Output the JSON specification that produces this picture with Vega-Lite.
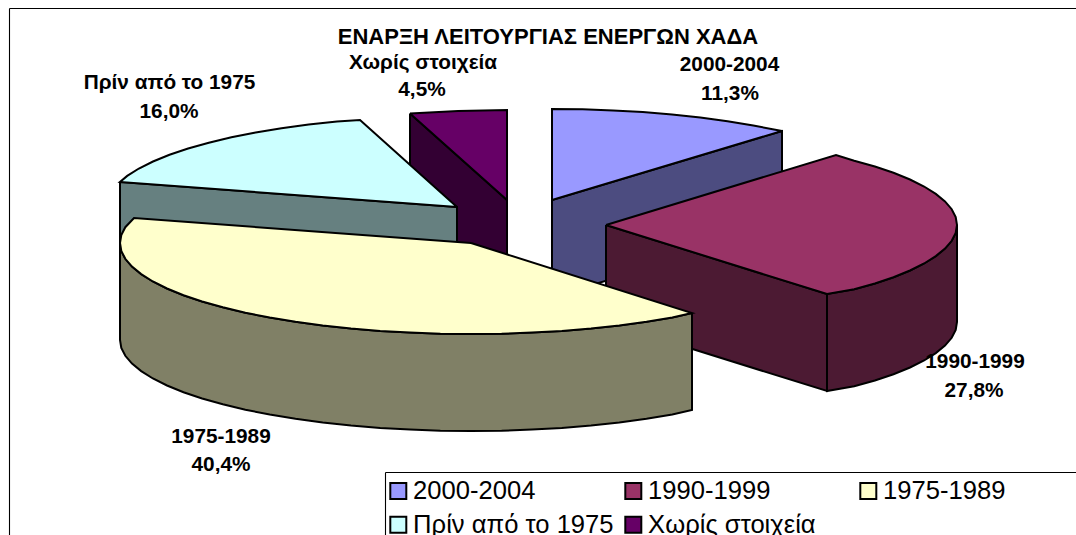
{"$schema":"https://vega.github.io/schema/vega-lite/v6.json","width":1076,"height":535,"padding":0,"autosize":{"type":"none"},"background":"white","view":{"stroke":null},
"datasets":{"shapes":[
{"part":"frame","i":0,"x":9.5,"y":8.5},{"part":"frame","i":1,"x":1090,"y":8.5},{"part":"frame","i":2,"x":1090,"y":550},{"part":"frame","i":3,"x":9.5,"y":550},{"part":"frame","i":4,"x":9.5,"y":8.5},
{"part":"Χωρίς στοιχεία side","i":0,"x":410,"y":113.5},{"part":"Χωρίς στοιχεία side","i":1,"x":507,"y":200},{"part":"Χωρίς στοιχεία side","i":2,"x":507,"y":297},{"part":"Χωρίς στοιχεία side","i":3,"x":410,"y":210.5},{"part":"Χωρίς στοιχεία side","i":4,"x":410,"y":113.5},
{"part":"Χωρίς στοιχεία","i":0,"x":410,"y":113.5},{"part":"Χωρίς στοιχεία","i":1,"x":458,"y":111},{"part":"Χωρίς στοιχεία","i":2,"x":507,"y":110},{"part":"Χωρίς στοιχεία","i":3,"x":507,"y":200},{"part":"Χωρίς στοιχεία","i":4,"x":410,"y":113.5},
{"part":"2000-2004 side","i":0,"x":552,"y":200},{"part":"2000-2004 side","i":1,"x":782,"y":131},{"part":"2000-2004 side","i":2,"x":782,"y":228},{"part":"2000-2004 side","i":3,"x":552,"y":297},{"part":"2000-2004 side","i":4,"x":552,"y":200},
{"part":"2000-2004","i":0,"x":552,"y":200},{"part":"2000-2004","i":1,"x":552,"y":109},{"part":"2000-2004","i":2,"x":582.6,"y":109.3},{"part":"2000-2004","i":3,"x":613,"y":110.4},{"part":"2000-2004","i":4,"x":642.8,"y":112.1},{"part":"2000-2004","i":5,"x":672,"y":114.5},{"part":"2000-2004","i":6,"x":700.3,"y":117.5},{"part":"2000-2004","i":7,"x":727.5,"y":121.2},{"part":"2000-2004","i":8,"x":753.3,"y":125.5},{"part":"2000-2004","i":9,"x":782,"y":131},{"part":"2000-2004","i":10,"x":552,"y":200},
{"part":"1990-1999 cut","i":0,"x":606,"y":225},{"part":"1990-1999 cut","i":1,"x":827,"y":294},{"part":"1990-1999 cut","i":2,"x":827,"y":391},{"part":"1990-1999 cut","i":3,"x":606,"y":322},{"part":"1990-1999 cut","i":4,"x":606,"y":225},
{"part":"1990-1999 side","i":0,"x":827,"y":294},{"part":"1990-1999 side","i":1,"x":854.2,"y":289.3},{"part":"1990-1999 side","i":2,"x":874.9,"y":283.5},{"part":"1990-1999 side","i":3,"x":893.5,"y":277.2},{"part":"1990-1999 side","i":4,"x":910,"y":270.5},{"part":"1990-1999 side","i":5,"x":924.1,"y":263.5},{"part":"1990-1999 side","i":6,"x":935.8,"y":256.1},{"part":"1990-1999 side","i":7,"x":945,"y":248.6},{"part":"1990-1999 side","i":8,"x":951.7,"y":240.8},{"part":"1990-1999 side","i":9,"x":955.7,"y":232.9},{"part":"1990-1999 side","i":10,"x":957,"y":225},{"part":"1990-1999 side","i":11,"x":957,"y":322},{"part":"1990-1999 side","i":12,"x":955.7,"y":329.9},{"part":"1990-1999 side","i":13,"x":951.7,"y":337.8},{"part":"1990-1999 side","i":14,"x":945,"y":345.6},{"part":"1990-1999 side","i":15,"x":935.8,"y":353.1},{"part":"1990-1999 side","i":16,"x":924.1,"y":360.5},{"part":"1990-1999 side","i":17,"x":910,"y":367.5},{"part":"1990-1999 side","i":18,"x":893.5,"y":374.2},{"part":"1990-1999 side","i":19,"x":874.9,"y":380.5},{"part":"1990-1999 side","i":20,"x":854.2,"y":386.3},{"part":"1990-1999 side","i":21,"x":827,"y":391},{"part":"1990-1999 side","i":22,"x":827,"y":294},
{"part":"1990-1999","i":0,"x":606,"y":225},{"part":"1990-1999","i":1,"x":836,"y":155},{"part":"1990-1999","i":2,"x":854.2,"y":160.7},{"part":"1990-1999","i":3,"x":874.9,"y":166.5},{"part":"1990-1999","i":4,"x":893.5,"y":172.8},{"part":"1990-1999","i":5,"x":910,"y":179.5},{"part":"1990-1999","i":6,"x":924.1,"y":186.5},{"part":"1990-1999","i":7,"x":935.8,"y":193.9},{"part":"1990-1999","i":8,"x":945,"y":201.4},{"part":"1990-1999","i":9,"x":951.7,"y":209.2},{"part":"1990-1999","i":10,"x":955.7,"y":217.1},{"part":"1990-1999","i":11,"x":957,"y":225},{"part":"1990-1999","i":12,"x":955.7,"y":232.9},{"part":"1990-1999","i":13,"x":951.7,"y":240.8},{"part":"1990-1999","i":14,"x":945,"y":248.6},{"part":"1990-1999","i":15,"x":935.8,"y":256.1},{"part":"1990-1999","i":16,"x":924.1,"y":263.5},{"part":"1990-1999","i":17,"x":910,"y":270.5},{"part":"1990-1999","i":18,"x":893.5,"y":277.2},{"part":"1990-1999","i":19,"x":874.9,"y":283.5},{"part":"1990-1999","i":20,"x":854.2,"y":289.3},{"part":"1990-1999","i":21,"x":827,"y":294},{"part":"1990-1999","i":22,"x":606,"y":225},
{"part":"Πρίν από το 1975 side","i":0,"x":120,"y":182},{"part":"Πρίν από το 1975 side","i":1,"x":457,"y":207},{"part":"Πρίν από το 1975 side","i":2,"x":457,"y":304},{"part":"Πρίν από το 1975 side","i":3,"x":120,"y":279},{"part":"Πρίν από το 1975 side","i":4,"x":120,"y":182},
{"part":"Πρίν από το 1975","i":0,"x":457,"y":207},{"part":"Πρίν από το 1975","i":1,"x":120,"y":182},{"part":"Πρίν από το 1975","i":2,"x":127.2,"y":175.9},{"part":"Πρίν από το 1975","i":3,"x":138.9,"y":168.5},{"part":"Πρίν από το 1975","i":4,"x":153,"y":161.5},{"part":"Πρίν από το 1975","i":5,"x":169.5,"y":154.8},{"part":"Πρίν από το 1975","i":6,"x":188.1,"y":148.5},{"part":"Πρίν από το 1975","i":7,"x":208.8,"y":142.7},{"part":"Πρίν από το 1975","i":8,"x":231.4,"y":137.3},{"part":"Πρίν από το 1975","i":9,"x":255.7,"y":132.5},{"part":"Πρίν από το 1975","i":10,"x":281.5,"y":128.2},{"part":"Πρίν από το 1975","i":11,"x":308.7,"y":124.5},{"part":"Πρίν από το 1975","i":12,"x":337,"y":121.5},{"part":"Πρίν από το 1975","i":13,"x":360,"y":120},{"part":"Πρίν από το 1975","i":14,"x":457,"y":207},
{"part":"1975-1989 side","i":0,"x":692,"y":313},{"part":"1975-1989 side","i":1,"x":672.3,"y":317.5},{"part":"1975-1989 side","i":2,"x":646.5,"y":321.8},{"part":"1975-1989 side","i":3,"x":619.3,"y":325.5},{"part":"1975-1989 side","i":4,"x":591,"y":328.5},{"part":"1975-1989 side","i":5,"x":561.8,"y":330.9},{"part":"1975-1989 side","i":6,"x":532,"y":332.6},{"part":"1975-1989 side","i":7,"x":501.6,"y":333.7},{"part":"1975-1989 side","i":8,"x":471,"y":334},{"part":"1975-1989 side","i":9,"x":440.4,"y":333.7},{"part":"1975-1989 side","i":10,"x":410,"y":332.6},{"part":"1975-1989 side","i":11,"x":380.2,"y":330.9},{"part":"1975-1989 side","i":12,"x":351,"y":328.5},{"part":"1975-1989 side","i":13,"x":322.7,"y":325.5},{"part":"1975-1989 side","i":14,"x":295.5,"y":321.8},{"part":"1975-1989 side","i":15,"x":269.7,"y":317.5},{"part":"1975-1989 side","i":16,"x":245.4,"y":312.7},{"part":"1975-1989 side","i":17,"x":222.8,"y":307.3},{"part":"1975-1989 side","i":18,"x":202.1,"y":301.5},{"part":"1975-1989 side","i":19,"x":183.5,"y":295.2},{"part":"1975-1989 side","i":20,"x":167,"y":288.5},{"part":"1975-1989 side","i":21,"x":152.9,"y":281.5},{"part":"1975-1989 side","i":22,"x":141.2,"y":274.1},{"part":"1975-1989 side","i":23,"x":132,"y":266.6},{"part":"1975-1989 side","i":24,"x":125.3,"y":258.8},{"part":"1975-1989 side","i":25,"x":121.3,"y":250.9},{"part":"1975-1989 side","i":26,"x":120,"y":243},{"part":"1975-1989 side","i":27,"x":120,"y":340},{"part":"1975-1989 side","i":28,"x":121.3,"y":347.9},{"part":"1975-1989 side","i":29,"x":125.3,"y":355.8},{"part":"1975-1989 side","i":30,"x":132,"y":363.6},{"part":"1975-1989 side","i":31,"x":141.2,"y":371.1},{"part":"1975-1989 side","i":32,"x":152.9,"y":378.5},{"part":"1975-1989 side","i":33,"x":167,"y":385.5},{"part":"1975-1989 side","i":34,"x":183.5,"y":392.2},{"part":"1975-1989 side","i":35,"x":202.1,"y":398.5},{"part":"1975-1989 side","i":36,"x":222.8,"y":404.3},{"part":"1975-1989 side","i":37,"x":245.4,"y":409.7},{"part":"1975-1989 side","i":38,"x":269.7,"y":414.5},{"part":"1975-1989 side","i":39,"x":295.5,"y":418.8},{"part":"1975-1989 side","i":40,"x":322.7,"y":422.5},{"part":"1975-1989 side","i":41,"x":351,"y":425.5},{"part":"1975-1989 side","i":42,"x":380.2,"y":427.9},{"part":"1975-1989 side","i":43,"x":410,"y":429.6},{"part":"1975-1989 side","i":44,"x":440.4,"y":430.7},{"part":"1975-1989 side","i":45,"x":471,"y":431},{"part":"1975-1989 side","i":46,"x":501.6,"y":430.7},{"part":"1975-1989 side","i":47,"x":532,"y":429.6},{"part":"1975-1989 side","i":48,"x":561.8,"y":427.9},{"part":"1975-1989 side","i":49,"x":591,"y":425.5},{"part":"1975-1989 side","i":50,"x":619.3,"y":422.5},{"part":"1975-1989 side","i":51,"x":646.5,"y":418.8},{"part":"1975-1989 side","i":52,"x":672.3,"y":414.5},{"part":"1975-1989 side","i":53,"x":692,"y":410},{"part":"1975-1989 side","i":54,"x":692,"y":313},
{"part":"1975-1989","i":0,"x":471,"y":243},{"part":"1975-1989","i":1,"x":692,"y":313},{"part":"1975-1989","i":2,"x":672.3,"y":317.5},{"part":"1975-1989","i":3,"x":646.5,"y":321.8},{"part":"1975-1989","i":4,"x":619.3,"y":325.5},{"part":"1975-1989","i":5,"x":591,"y":328.5},{"part":"1975-1989","i":6,"x":561.8,"y":330.9},{"part":"1975-1989","i":7,"x":532,"y":332.6},{"part":"1975-1989","i":8,"x":501.6,"y":333.7},{"part":"1975-1989","i":9,"x":471,"y":334},{"part":"1975-1989","i":10,"x":440.4,"y":333.7},{"part":"1975-1989","i":11,"x":410,"y":332.6},{"part":"1975-1989","i":12,"x":380.2,"y":330.9},{"part":"1975-1989","i":13,"x":351,"y":328.5},{"part":"1975-1989","i":14,"x":322.7,"y":325.5},{"part":"1975-1989","i":15,"x":295.5,"y":321.8},{"part":"1975-1989","i":16,"x":269.7,"y":317.5},{"part":"1975-1989","i":17,"x":245.4,"y":312.7},{"part":"1975-1989","i":18,"x":222.8,"y":307.3},{"part":"1975-1989","i":19,"x":202.1,"y":301.5},{"part":"1975-1989","i":20,"x":183.5,"y":295.2},{"part":"1975-1989","i":21,"x":167,"y":288.5},{"part":"1975-1989","i":22,"x":152.9,"y":281.5},{"part":"1975-1989","i":23,"x":141.2,"y":274.1},{"part":"1975-1989","i":24,"x":132,"y":266.6},{"part":"1975-1989","i":25,"x":125.3,"y":258.8},{"part":"1975-1989","i":26,"x":121.3,"y":250.9},{"part":"1975-1989","i":27,"x":120,"y":243},{"part":"1975-1989","i":28,"x":121.3,"y":235.1},{"part":"1975-1989","i":29,"x":125.3,"y":227.2},{"part":"1975-1989","i":30,"x":134,"y":218},{"part":"1975-1989","i":31,"x":471,"y":243},
{"part":"legend box","i":0,"x":385.5,"y":472.5},{"part":"legend box","i":1,"x":1090,"y":472.5},{"part":"legend box","i":2,"x":1090,"y":550},{"part":"legend box","i":3,"x":385.5,"y":550},{"part":"legend box","i":4,"x":385.5,"y":472.5}
],
"labels":[
{"t":"Χωρίς στοιχεία","x":423,"y":63},{"t":"4,5%","x":422,"y":90},
{"t":"Πρίν από το 1975","x":169.5,"y":83},{"t":"16,0%","x":169,"y":112},
{"t":"2000-2004","x":729.5,"y":65},{"t":"11,3%","x":730,"y":94},
{"t":"1990-1999","x":975,"y":362},{"t":"27,8%","x":974,"y":391},
{"t":"1975-1989","x":221,"y":437},{"t":"40,4%","x":221,"y":465}
]},
"layer":[
{"data":{"name":"shapes"},
"mark":{"type":"line","stroke":"black","strokeJoin":"miter","clip":true,"interpolate":"linear"},
"encoding":{
"x":{"field":"x","type":"quantitative","scale":{"domain":[0,1076],"nice":false,"zero":false},"axis":null},
"y":{"field":"y","type":"quantitative","scale":{"domain":[535,0],"nice":false,"zero":false},"axis":null},
"order":{"field":"i","type":"quantitative"},
"strokeWidth":{"condition":{"test":"datum.part==='frame'||datum.part==='legend box'","value":1.1},"value":2},
"fill":{"field":"part","type":"nominal","scale":{
"domain":["frame","legend box","2000-2004","1990-1999","1975-1989","Πρίν από το 1975","Χωρίς στοιχεία","2000-2004 side","1990-1999 side","1990-1999 cut","1975-1989 side","Πρίν από το 1975 side","Χωρίς στοιχεία side"],
"range":["#ffffff","#ffffff","#9999ff","#993366","#ffffcc","#ccffff","#660066","#4c4c80","#4c1a33","#4c1a33","#808066","#668080","#330033"]},
"legend":{"title":null,"orient":"none","legendX":385.5,"legendY":478,"columns":3,"direction":"horizontal","gridAlign":"all","values":["2000-2004","1990-1999","1975-1989","Πρίν από το 1975","Χωρίς στοιχεία"],"symbolType":"square","symbolSize":256,"symbolStrokeColor":"black","symbolStrokeWidth":2,"labelFont":"Liberation Sans","labelFontSize":25.6,"labelColor":"black","labelOffset":2,"columnPadding":6,"rowPadding":7,"padding":0,"labelLimit":400,"zindex":1}}
}},
{"data":{"name":"labels"},
"mark":{"type":"text","font":"Liberation Sans","fontWeight":"bold","fontSize":20.8,"align":"center","baseline":"middle","color":"black"},
"encoding":{"x":{"field":"x","type":"quantitative"},"y":{"field":"y","type":"quantitative"},"text":{"field":"t"}}},
{"data":{"values":[{"t":"ΕΝΑΡΞΗ ΛΕΙΤΟΥΡΓΙΑΣ ΕΝΕΡΓΩΝ ΧΑΔΑ","x":548,"y":37}]},
"mark":{"type":"text","font":"Liberation Sans","fontWeight":"bold","fontSize":22,"align":"center","baseline":"middle","color":"black"},
"encoding":{"x":{"field":"x","type":"quantitative"},"y":{"field":"y","type":"quantitative"},"text":{"field":"t"}}}
]}
